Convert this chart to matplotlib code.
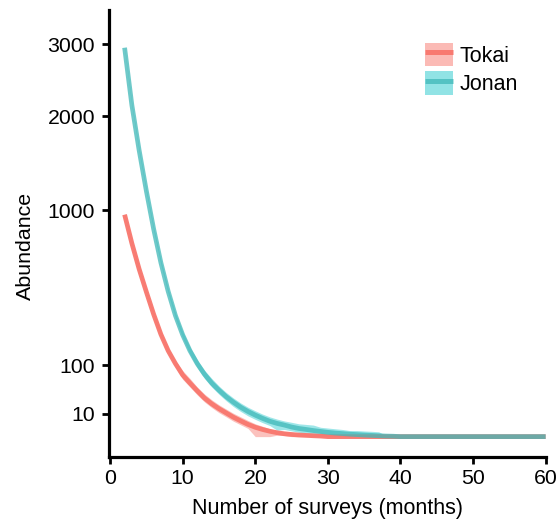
import numpy as np
import matplotlib
matplotlib.use("Agg")
import matplotlib.pyplot as plt
from matplotlib.patches import Patch
from matplotlib.lines import Line2D

plt.rcParams['font.family'] = ['Liberation Sans', 'DejaVu Sans']

# ---------------- data ----------------
months = list(range(2, 61))

tokai_mean = [961, 729, 548, 408, 292, 204, 144, 104, 74, 56, 41, 29, 21, 15.2, 10.9, 7.3,
              4.8, 2.9, 1.7, 1.0, 0.56, 0.3, 0.16, 0.09, 0.05, 0.03, 0.015, 0.006] + [0] * 31
tokai_low = [949, 716, 534, 396, 281, 195, 135, 95, 64, 48, 34, 23.5, 16.4, 11.2, 7.6, 4.6,
             2.7, 1.3, 0, 0, 0, 0.04, 0.02] + [0] * 36
tokai_high = [973, 743, 562, 420, 304, 215, 154, 113, 85, 66, 48, 35.4, 26.5, 19.8, 14.8, 10.6,
              7.6, 5.1, 3.2, 2.1, 1.2, 0.64, 0.49, 0.36, 0.25, 0.2, 0.16, 0.12, 0.1, 0.05,
              0.03, 0.01] + [0] * 27

jonan_mean = [2950, 2144, 1600, 1176, 841, 590, 412, 286, 202, 144, 104, 76, 56, 42, 31, 23,
              16.8, 12.3, 9.0, 6.5, 4.6, 3.4, 2.6, 1.8, 1.3, 1.0, 0.72, 0.52, 0.36, 0.25,
              0.18, 0.12, 0.08, 0.05, 0.03, 0.015, 0.006, 0.003] + [0] * 21
jonan_low = [2927, 2121, 1580, 1156, 824, 574, 398, 272, 189, 132, 93, 66, 48, 35, 25, 17.6,
             12.3, 8.4, 5.8, 3.8, 2.4, 0.8, 1.0, 0.64, 0.36, 0.25, 0.12, 0.06, 0.04, 0.02,
             0.01] + [0] * 28
jonan_high = [2970, 2167, 1620, 1197, 858, 608, 426, 299, 215, 156, 116, 86, 66, 50, 38, 29,
              22, 16.8, 13, 9.9, 7.6, 6.0, 4.8, 4.0, 3.2, 2.9, 2.6, 1.7, 1.44, 1.2, 1.0,
              0.72, 0.72, 0.62, 0.55, 0.46, 0.02, 0.01] + [0] * 21

series_names = ["Tokai", "Jonan"]
x_ticks = [0, 10, 20, 30, 40, 50, 60]
y_ticks = [10, 100, 1000, 2000, 3000]

# ---------------- style ----------------
band_cols = {"Tokai": "#F8766D", "Jonan": "#00BFC4"}
line_cols = {"Tokai": "#F8766D", "Jonan": "#3FB8B8"}
line_alpha = {"Tokai": 0.95, "Jonan": 0.75}
band_alpha = {"Tokai": 0.45, "Jonan": 0.38}

W, H = 556, 529
fig = plt.figure(figsize=(W / 100, H / 100), dpi=100)
ax = fig.add_axes([109 / W, 1 - 457 / H, (546 - 109) / W, (457 - 10) / H])


def fwd(v):
    v = np.asarray(v, dtype=float)
    return np.sign(v) * np.sqrt(np.abs(v))


def inv(v):
    v = np.asarray(v, dtype=float)
    return np.sign(v) * v ** 2


ax.set_yscale('function', functions=(fwd, inv))

x = np.array(months)
data = {
    "Tokai": (np.array(tokai_mean), np.array(tokai_low), np.array(tokai_high)),
    "Jonan": (np.array(jonan_mean), np.array(jonan_low), np.array(jonan_high)),
}

for name in series_names:
    m, lo, hi = data[name]
    ax.fill_between(x, lo, hi, color=band_cols[name], alpha=band_alpha[name],
                    linewidth=0, zorder=2)
    ax.plot(x, m, color=line_cols[name], lw=3.4, solid_capstyle='butt',
            solid_joinstyle='round', alpha=line_alpha[name], zorder=3)

ax.set_xlim(-0.15, 60.05)
ax.set_ylim(-8.1, 3550)
ax.set_xticks(x_ticks)
ax.set_yticks(y_ticks)
ax.set_yticklabels([str(t) for t in y_ticks])
ax.minorticks_off()

for s in ['top', 'right']:
    ax.spines[s].set_visible(False)
for s in ['left', 'bottom']:
    ax.spines[s].set_linewidth(2.3)
    ax.spines[s].set_color('black')
ax.tick_params(axis='both', which='major', direction='out', length=5, width=2.0,
               labelsize=15.3, colors='black', pad=4)
ax.tick_params(axis='y', pad=5)

ax.set_xlabel("Number of surveys (months)", fontsize=15.5, labelpad=7)
ax.set_ylabel("Abundance", fontsize=15.4)
ax.yaxis.set_label_coords(-0.169, 0.472)

handles = []
for name in series_names:
    handles.append((Patch(facecolor=band_cols[name], alpha=band_alpha[name] + 0.05,
                          edgecolor='none'),
                    Line2D([], [], color=line_cols[name], lw=3.6, alpha=line_alpha[name],
                           solid_capstyle='butt')))
leg = ax.legend(handles, series_names, loc='upper left',
                bbox_to_anchor=(425 / W, 1 - 43 / H), bbox_transform=fig.transFigure,
                frameon=False, fontsize=15.5, handlelength=1.3, handleheight=1.3,
                labelspacing=0.2, handletextpad=0.3, borderpad=0, borderaxespad=0)

fig.savefig("out.png", dpi=100)
